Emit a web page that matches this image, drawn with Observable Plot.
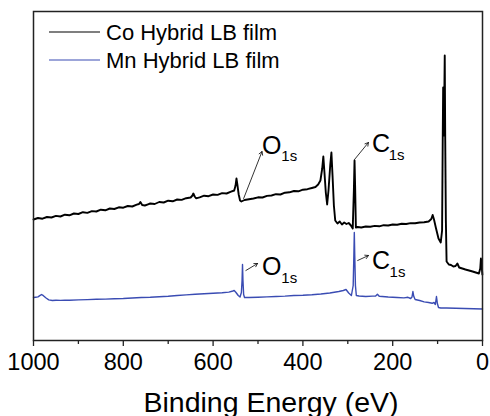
<!DOCTYPE html>
<html><head><meta charset="utf-8">
<script src="https://cdn.jsdelivr.net/npm/d3@7"></script>
<script src="https://cdn.jsdelivr.net/npm/@observablehq/plot@0.6"></script>
<style>body{margin:0;background:#fff;font-family:"Liberation Sans",Arial,sans-serif}</style>
</head><body><div id="chart"></div>
<script>
// [binding energy (eV), intensity (a.u.)]
const coSpectrum = [[1000,121],[990,122.5],[980,121.8],[970,123.5],[960,123],[950,124.6],[940,124],[930,125.8],[920,125.2],[910,127],[900,126.5],[890,128.3],[880,127.6],[870,129.4],[860,129],[850,130.8],[840,130.2],[830,132],[820,131.5],[810,133.2],[800,132.8],[790,134.5],[780,134],[770,135.8],[765,136.5],[762,138.5],[758,135.5],[752,135],[745,136.2],[740,137],[730,136.5],[720,138.5],[710,138],[700,139.8],[690,139.2],[680,141],[670,140.6],[660,142.3],[650,143],[646,145],[644,147],[641,144],[638,142.2],[630,143.2],[620,144.8],[610,144.3],[600,146],[590,145.6],[580,147.4],[570,147],[560,148.8],[553,150],[550,155],[548,162],[546,156],[543,146],[540,140],[537,139],[530,140.5],[520,141.3],[510,142],[500,143.2],[490,143],[480,144.6],[470,145],[460,146.3],[450,146],[440,147.8],[430,148.2],[420,149.5],[410,149.2],[400,150.8],[390,151.3],[380,152.5],[372,153.5],[366,156],[361,160],[357,172],[354.5,184],[352,168],[349,148],[346,136],[343,150],[339,176],[336.5,188],[334,165],[331,135],[328,120],[323,117],[318,119],[313,116],[308,118],[303,116.5],[298,117.5],[293,115],[289,112],[286.5,150],[285,180],[283.5,150],[282,113],[278,113.5],[270,113],[260,114],[250,113.8],[240,114.6],[230,114.2],[220,115.3],[210,115],[200,116],[190,115.8],[180,116.8],[170,116.5],[160,117.4],[150,117.2],[140,118],[130,118.2],[120,119],[114,121.5],[111,125.5],[108,121],[104,113],[98,102],[93,98],[90,110],[88.6,200],[87.6,253],[86.4,205],[85.4,230],[84.1,285],[83,200],[81.6,120],[80,79],[75,76],[70,75.5],[65,74],[60,74.5],[56,77],[52,73],[45,72],[38,71],[30,70],[22,69],[15,68],[8,67],[5,72],[3.5,82],[2,76],[0.3,66]];

const mnSpectrum = [[1000,43],[995,43.3],[990,43.6],[986,44.8],[982,46],[978,44.8],[972,42.5],[966,40.6],[958,40],[950,40.3],[940,40.1],[930,40.4],[920,40.2],[900,40.6],[880,40.9],[860,41.2],[840,41.4],[820,41.7],[800,42],[780,42.5],[760,43],[740,43.3],[720,43.8],[700,44.3],[680,45],[660,45.6],[640,46.3],[620,46.8],[600,47.3],[580,47.8],[565,48.4],[556,49.5],[553,50],[549,48],[544,45],[540,43.5],[537,48],[535.5,60],[534.5,76],[533.5,60],[532,46],[530,43],[520,43],[500,43.3],[480,43.6],[460,44],[440,44.4],[420,45],[400,45.3],[380,45.8],[360,46.5],[340,47.5],[320,49],[310,50],[304,51],[298,47.5],[292,45],[288,55],[286.5,85],[285.5,108],[284.5,85],[283,55],[281,45],[275,44.5],[260,44],[245,44.4],[238,44.5],[234,46.3],[230,44.3],[210,43.5],[190,43],[175,42.6],[166,43.2],[160,42],[157,43.5],[155,49],[153,44],[150,41],[140,40],[130,38.6],[120,38],[112,37.2],[108,38],[105,36],[102.5,44],[100.5,37],[98,33],[93,32.5],[80,32.5],[60,32.3],[40,32],[20,31.8],[0,31.5]];

const seriesNames = ["Co Hybrid LB film", "Mn Hybrid LB film"];
const seriesColors = ["#000000", "#3a4cb3"];
const majorTicks = [1000, 800, 600, 400, 200, 0];
const minorTicks = [900, 700, 500, 300, 100];
const xLabel = "Binding Energy (eV)";

// peak labels: element letter + subscript, anchored in data space
const labelMain = [
  {e: 491, v: 187, t: "O"}, {e: 246, v: 189, t: "C"},
  {e: 491, v: 66, t: "O"}, {e: 246, v: 72, t: "C"}
];
const labelSub = [
  {e: 448, v: 180, t: "1s"}, {e: 209, v: 181, t: "1s"},
  {e: 448, v: 58, t: "1s"}, {e: 207, v: 64, t: "1s"}
];
const arrows = [
  {e1: 532, v1: 142, e2: 491, v2: 189},
  {e1: 285, v1: 181, e2: 254, v2: 198},
  {e1: 527, v1: 70, e2: 501, v2: 77},
  {e1: 278, v1: 80, e2: 254, v2: 85}
];

const co = coSpectrum.map(([e, v]) => ({e, v}));
const mn = mnSpectrum.map(([e, v]) => ({e, v}));
const font = "Liberation Sans, Arial, sans-serif";

function legend(index, scales, values, dims) {
  const g = d3.create("svg:g");
  seriesNames.forEach((name, i) => {
    const y = dims.marginTop + 21 + i * 28;
    g.append("line").attr("x1", dims.marginLeft + 16).attr("x2", dims.marginLeft + 67)
      .attr("y1", y).attr("y2", y).attr("stroke", seriesColors[i]).attr("stroke-width", 1.2);
    g.append("text").attr("x", dims.marginLeft + 73).attr("y", y).attr("dy", "0.35em")
      .attr("text-anchor", "start")
      .attr("font-size", 22).attr("font-family", font).attr("fill", "#000").text(name);
  });
  return g.node();
}

const chart = Plot.plot({
  width: 490, height: 416,
  marginLeft: 33, marginRight: 8, marginTop: 11, marginBottom: 76,
  style: {fontFamily: font, background: "#fff"},
  x: {domain: [1000, 0]},
  y: {domain: [0, 329], axis: null},
  marks: [
    Plot.line(mn, {x: "e", y: "v", stroke: seriesColors[1], strokeWidth: 1.4}),
    Plot.line(co, {x: "e", y: "v", stroke: seriesColors[0], strokeWidth: 1.9}),
    Plot.arrow(arrows, {x1: "e1", y1: "v1", x2: "e2", y2: "v2", stroke: "#000", strokeWidth: 0.8, headLength: 7}),
    Plot.text(labelMain, {x: "e", y: "v", text: "t", textAnchor: "start", lineAnchor: "bottom", fontSize: 25, fill: "#000"}),
    Plot.text(labelSub, {x: "e", y: "v", text: "t", textAnchor: "start", lineAnchor: "bottom", fontSize: 15, fill: "#000"}),
    Plot.axisX({ticks: majorTicks, tickSize: 6, tickPadding: 7, fontSize: 23.5, tickFormat: d => String(d), label: null, stroke: "#222", strokeWidth: 1.3, fill: "#000"}),
    Plot.axisX({ticks: minorTicks, tickSize: 4, tickFormat: () => "", label: null, stroke: "#222", strokeWidth: 1.3}),
    Plot.frame({stroke: "#222", strokeWidth: 1.5}),
    Plot.text([xLabel], {frameAnchor: "bottom", dx: 13, dy: 71, lineAnchor: "bottom", fontSize: 28.5, fill: "#000"}),
    legend
  ]
});
document.getElementById("chart").appendChild(chart);
</script>
</body></html>
